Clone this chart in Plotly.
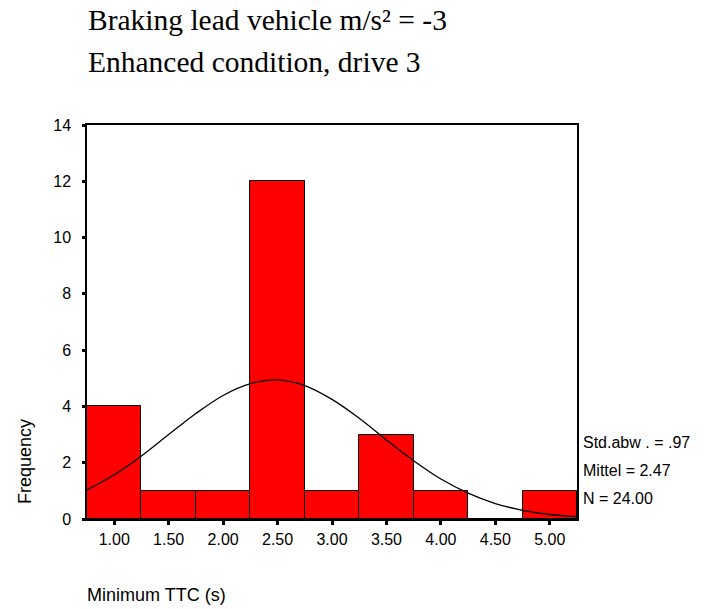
import plotly.graph_objects as go

# Histogram bins (bin centers) and counts
bin_centers = [1.00, 1.50, 2.00, 2.50, 3.00, 3.50, 4.00, 4.50, 5.00]
counts = [4, 1, 1, 12, 1, 3, 1, 0, 1]
tick_labels = ["1.00", "1.50", "2.00", "2.50", "3.00", "3.50", "4.00", "4.50", "5.00"]

# Normal curve
curve_x = [0.75, 1.00, 1.25, 1.50, 1.75, 2.00, 2.25, 2.50, 2.75, 3.00, 3.25,
           3.50, 3.75, 4.00, 4.25, 4.50, 4.75, 5.00, 5.25]
curve_y = [1.03, 1.57, 2.24, 3.00, 3.75, 4.39, 4.81, 4.94, 4.74, 4.25, 3.58,
           2.81, 2.07, 1.42, 0.92, 0.55, 0.31, 0.16, 0.08]

stats_lines = ["Std.abw . = .97", "Mittel = 2.47", "N = 24.00"]

W, H = 704, 609
L, R, T, B = 87, 127, 125, 90
PW, PH = W - L - R, H - T - B

fig = go.Figure()
fig.add_trace(go.Bar(
    x=bin_centers, y=counts, width=0.5,
    marker=dict(color="#FF0000", line=dict(color="black", width=1)),
    showlegend=False, hoverinfo="skip",
))
fig.add_trace(go.Scatter(
    x=curve_x, y=curve_y, mode="lines", line=dict(color="black", width=1.3, shape="spline"),
    showlegend=False, hoverinfo="skip",
))

sans = "Liberation Sans, Arial, sans-serif"
serif = "Liberation Serif, Times New Roman, serif"

fig.update_layout(
    width=W, height=H,
    margin=dict(l=L, r=R, t=T, b=B, autoexpand=False),
    paper_bgcolor="white", plot_bgcolor="white",
    bargap=0,
    font=dict(family=sans, size=16, color="black"),
    xaxis=dict(
        range=[0.75, 5.25], tickvals=bin_centers, ticktext=tick_labels,
        showline=True, linecolor="black", linewidth=1.5, mirror=True,
        ticks="outside", ticklen=4, tickwidth=3, tickcolor="black",
        ticklabelstandoff=1,
        showgrid=False, zeroline=False, tickfont=dict(family=sans, size=16),
    ),
    yaxis=dict(
        range=[0, 14], dtick=2,
        showline=True, linecolor="black", linewidth=1.5, mirror=True,
        ticks="outside", ticklen=3, tickwidth=3, tickcolor="black",
        ticklabelstandoff=8,
        showgrid=False, zeroline=False, tickfont=dict(family=sans, size=16),
    ),
)


def px_x(x):
    return (x - L) / PW


def px_y(y):
    return (H - y - B) / PH


fig.add_annotation(xref="paper", yref="paper", xanchor="left", yanchor="middle",
                   x=px_x(86), y=px_y(20), text="Braking lead vehicle m/s² = -3",
                   showarrow=False, font=dict(family=serif, size=29.5))
fig.add_annotation(xref="paper", yref="paper", xanchor="left", yanchor="middle",
                   x=px_x(86), y=px_y(62), text="Enhanced condition, drive 3",
                   showarrow=False, font=dict(family=serif, size=29.5))
fig.add_annotation(xref="paper", yref="paper", xanchor="left", yanchor="middle",
                   x=px_x(85), y=px_y(595), text="Minimum TTC (s)",
                   showarrow=False, font=dict(family=sans, size=18))
fig.add_annotation(xref="paper", yref="paper", xanchor="center", yanchor="middle",
                   x=px_x(25), y=px_y(462), text="Frequency",
                   textangle=-90, showarrow=False, font=dict(family=sans, size=18))

for line, ypx in zip(stats_lines, [442, 470, 498]):
    fig.add_annotation(xref="paper", yref="paper", xanchor="left", yanchor="middle",
                       x=px_x(581), y=px_y(ypx), text=line,
                       showarrow=False, font=dict(family=sans, size=16))

fig.write_html(
    "out.html",
    config={"displayModeBar": False},
    post_script="document.body.style.margin='0';document.body.style.overflow='hidden';",
)
